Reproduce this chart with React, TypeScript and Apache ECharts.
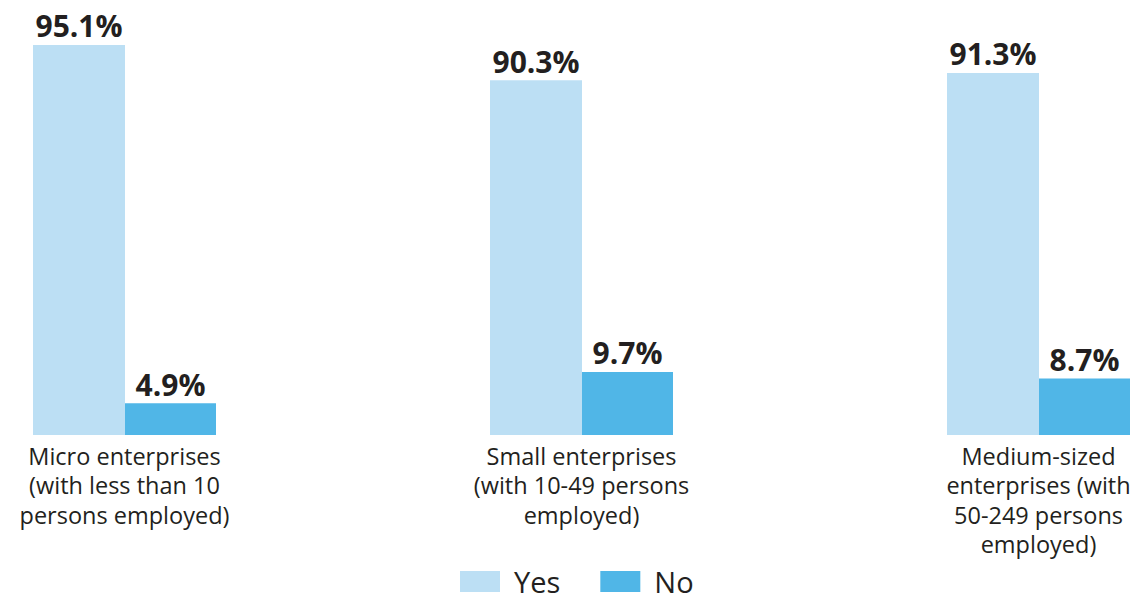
import React, { useEffect, useRef } from "react";
import * as echarts from "echarts";

const categories = [
  "Micro enterprises\n(with less than 10\npersons employed)",
  "Small enterprises\n(with 10-49 persons\nemployed)",
  "Medium-sized\nenterprises (with\n50-249 persons\nemployed)",
];
const yesValues = [95.1, 90.3, 91.3];
const noValues = [4.9, 9.7, 8.7];
const seriesNames = ["Yes", "No"];

const YES_COLOR = "#bcdff4";
const NO_COLOR = "#50b6e7";
const TEXT = "#231f20";
const FONT = "'Open Sans', sans-serif";

export default function App() {
  const ref = useRef<HTMLDivElement>(null);
  useEffect(() => {
    if (!ref.current) return;
    const chart = echarts.init(ref.current, undefined, { renderer: "svg" });
    const valueLabel = {
      show: true,
      position: "top",
      distance: 4,
      formatter: (p: any) => p.value.toFixed(1) + "%",
      fontFamily: FONT,
      fontSize: 30,
      fontWeight: "bold",
      color: TEXT,
    };
    chart.setOption({
      animation: false,
      backgroundColor: "#ffffff",
      grid: {
        left: -104,
        right: -121,
        top: 5,
        bottom: 166,
        containLabel: false,
        outerBoundsMode: "none",
      },
      legend: {
        left: 460,
        top: 567,
        padding: 0,
        itemWidth: 40,
        itemHeight: 21,
        itemGap: 40,
        icon: "rect",
        data: seriesNames,
        textStyle: {
          fontFamily: FONT,
          fontSize: 29,
          lineHeight: 28,
          color: TEXT,
          padding: [0, 0, 0, 9],
        },
      },
      xAxis: {
        type: "category",
        data: categories,
        axisLine: { show: false },
        axisTick: { show: false },
        axisLabel: {
          interval: 0,
          margin: 6,
          fontFamily: FONT,
          fontSize: 23.5,
          lineHeight: 29.5,
          color: TEXT,
        },
      },
      yAxis: [
        { type: "value", min: 42.3, max: 100.5, show: false, splitLine: { show: false } },
        { type: "value", min: 0, max: 66.15, show: false, splitLine: { show: false } },
      ],
      series: [
        {
          name: seriesNames[0],
          type: "bar",
          yAxisIndex: 0,
          data: yesValues,
          barWidth: 92,
          barGap: "0%",
          clip: true,
          itemStyle: { color: YES_COLOR },
          label: valueLabel,
        },
        {
          name: seriesNames[1],
          type: "bar",
          yAxisIndex: 1,
          data: noValues,
          barWidth: 91,
          barGap: "0%",
          clip: true,
          itemStyle: { color: NO_COLOR },
          label: valueLabel,
        },
      ],
    });
    return () => chart.dispose();
  }, []);
  return (
    <div
      ref={ref}
      style={{ position: "fixed", left: 0, top: 0, width: 1146, height: 601 }}
    />
  );
}
